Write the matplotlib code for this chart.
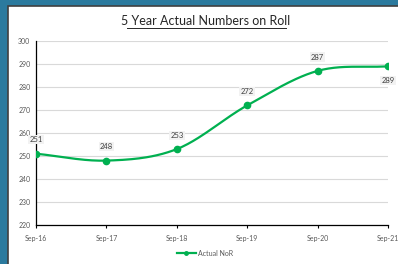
import numpy as np
import matplotlib.pyplot as plt
from matplotlib.patches import Rectangle
from matplotlib.lines import Line2D

# Chart data
years = ['Sep-16', 'Sep-17', 'Sep-18', 'Sep-19', 'Sep-20', 'Sep-21']
nor = [251, 248, 253, 272, 287, 289]
label_below = [False, False, False, False, False, True]

green = '#00b050'
plt.rcParams['font.family'] = ['Lato', 'DejaVu Sans']


# Catmull-Rom style smoothing, roughly like Excel's smoothed line
def smooth(xs, ys, n=40):
    xs = np.asarray(xs, float)
    ys = np.asarray(ys, float)
    px = np.concatenate([[2 * xs[0] - xs[1]], xs, [2 * xs[-1] - xs[-2]]])
    py = np.concatenate([[2 * ys[0] - ys[1]], ys, [2 * ys[-1] - ys[-2]]])
    out_x, out_y = [], []
    for i in range(1, len(px) - 2):
        t = np.linspace(0, 1, n)
        for p, out in ((px, out_x), (py, out_y)):
            p0, p1, p2, p3 = p[i - 1], p[i], p[i + 1], p[i + 2]
            out.extend(0.5 * (2 * p1 + (-p0 + p2) * t
                              + (2 * p0 - 5 * p1 + 4 * p2 - p3) * t ** 2
                              + (-p0 + 3 * p1 - 3 * p2 + p3) * t ** 3))
    return np.array(out_x), np.array(out_y)


fig = plt.figure(figsize=(3.98, 2.64), dpi=100)
fig.patch.set_facecolor('#2b7a9e')

# white chart panel with dark edge on left/top
fig.patches.append(Rectangle((8 / 398, -0.01), 1, (264 - 6) / 264 + 0.01,
                             transform=fig.transFigure, facecolor='white',
                             edgecolor='#404040', linewidth=1.2, zorder=-5))

ax = fig.add_axes([36 / 398, 1 - 225 / 264, 352 / 398, 184 / 264])
ax.set_zorder(2)
ax.patch.set_alpha(0)
x = np.arange(len(years))
sx, sy = smooth(x, nor)
ax.plot(sx, sy, color=green, linewidth=1.6, solid_capstyle='round', zorder=3)
ax.plot(x, nor, 'o', color=green, markersize=4.5, zorder=4)

for xi, v, below in zip(x, nor, label_below):
    off = -10 if below else 10
    ax.annotate(str(v), (xi, v), xytext=(0, off), textcoords='offset points',
                ha='center', va='center', fontsize=5.5, color='#404040',
                bbox=dict(boxstyle='square,pad=0.15', facecolor='#f2f2f2',
                          edgecolor='none'), zorder=5, annotation_clip=False)

ax.set_xlim(0, 5)
ax.set_ylim(220, 300)
ax.set_yticks(range(220, 301, 10))
ax.set_xticks(x)
ax.set_xticklabels(years)
ax.tick_params(axis='both', labelsize=5, colors='#595959', length=0, pad=4)
ax.tick_params(axis='x', length=2, color='black', direction='out', pad=5)
ax.grid(axis='y', color='#d9d9d9', linewidth=0.8)
ax.set_axisbelow(True)
for s in ['top', 'right']:
    ax.spines[s].set_visible(False)
ax.spines['left'].set_color('black')
ax.spines['bottom'].set_color('black')
ax.spines['left'].set_linewidth(0.9)
ax.spines['bottom'].set_linewidth(0.9)

fig.text(206 / 398, 1 - 21 / 264, '5 Year Actual Numbers on Roll', ha='center',
         va='center', fontsize=9, color='#262626')
# underline for title
fig.add_artist(Line2D([127 / 398, 286 / 398], [1 - 28 / 264, 1 - 28 / 264],
                      color='#262626', linewidth=0.7))

handle = Line2D([], [], color=green, marker='o', markersize=2.5, linewidth=1.6)
fig.legend([handle], ['Actual NoR'], loc='center', bbox_to_anchor=(205 / 398, 1 - 253 / 264),
           frameon=False, fontsize=5, handlelength=2.8, handletextpad=0.3,
           labelcolor='#595959')

fig.savefig('out.png', dpi=100, facecolor=fig.get_facecolor())
